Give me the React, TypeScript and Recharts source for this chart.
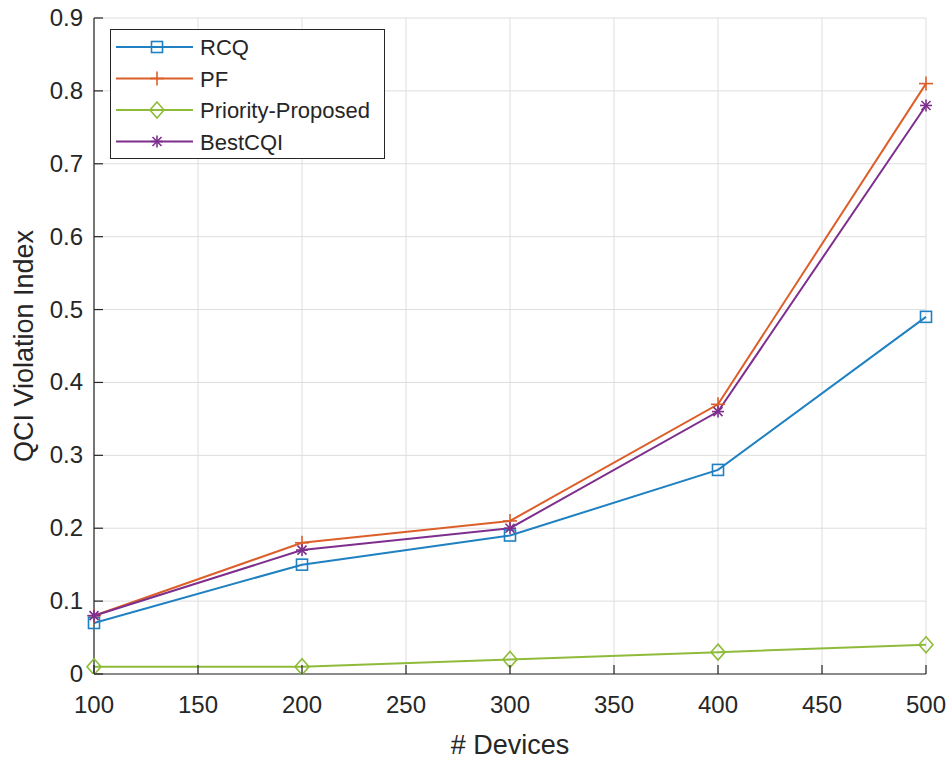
import { LineChart, Line, XAxis, YAxis, CartesianGrid, Legend, Label } from 'recharts';

// # devices on the x axis
const devices = [100, 200, 300, 400, 500];

// QCI violation index per scheduler
const rcq = [0.07, 0.15, 0.19, 0.28, 0.49];
const pf = [0.08, 0.18, 0.21, 0.37, 0.81];
const priorityProposed = [0.01, 0.01, 0.02, 0.03, 0.04];
const bestCqi = [0.08, 0.17, 0.2, 0.36, 0.78];

const xTicks = [100, 150, 200, 250, 300, 350, 400, 450, 500];
const yTicks = [0, 0.1, 0.2, 0.3, 0.4, 0.5, 0.6, 0.7, 0.8, 0.9];

type MarkerKind = 'square' | 'plus' | 'diamond' | 'asterisk';

const SERIES: { key: string; name: string; color: string; marker: MarkerKind }[] = [
  { key: 'rcq', name: 'RCQ', color: '#1f80c2', marker: 'square' },
  { key: 'pf', name: 'PF', color: '#dc5f2a', marker: 'plus' },
  { key: 'prio', name: 'Priority-Proposed', color: '#8fbb3a', marker: 'diamond' },
  { key: 'best', name: 'BestCQI', color: '#7e2f8e', marker: 'asterisk' },
];

const data = devices.map((d, i) => ({
  devices: d,
  rcq: rcq[i],
  pf: pf[i],
  prio: priorityProposed[i],
  best: bestCqi[i],
}));

const FONT = '"Liberation Sans", Arial, Helvetica, sans-serif';
const AXIS_COLOR = '#262626';
const TICK_LEN = 9;

function Marker({ kind, cx, cy, color }: { kind: MarkerKind; cx: number; cy: number; color: string }) {
  const sw = 1.6;
  switch (kind) {
    case 'square':
      return <rect x={cx - 5.5} y={cy - 5.5} width={11} height={11} fill="none" stroke={color} strokeWidth={sw} />;
    case 'plus':
      return (
        <g stroke={color} strokeWidth={sw}>
          <line x1={cx - 7} y1={cy} x2={cx + 7} y2={cy} />
          <line x1={cx} y1={cy - 7} x2={cx} y2={cy + 7} />
        </g>
      );
    case 'diamond':
      return (
        <polygon
          points={`${cx},${cy - 8} ${cx + 7},${cy} ${cx},${cy + 8} ${cx - 7},${cy}`}
          fill="none"
          stroke={color}
          strokeWidth={sw}
        />
      );
    case 'asterisk':
      return (
        <g stroke={color} strokeWidth={sw}>
          <line x1={cx - 6} y1={cy} x2={cx + 6} y2={cy} />
          <line x1={cx} y1={cy - 6} x2={cx} y2={cy + 6} />
          <line x1={cx - 4.5} y1={cy - 4.5} x2={cx + 4.5} y2={cy + 4.5} />
          <line x1={cx - 4.5} y1={cy + 4.5} x2={cx + 4.5} y2={cy - 4.5} />
        </g>
      );
  }
}

// tick labels with MATLAB-style inward tick marks
const BottomTick = (props: any) => {
  const { x, y, payload } = props;
  return (
    <g>
      <line x1={x} y1={y} x2={x} y2={y - TICK_LEN} stroke={AXIS_COLOR} strokeWidth={1.2} />
      <text x={x} y={y + 39} textAnchor="middle" fontSize={24} fill={AXIS_COLOR} fontFamily={FONT}>
        {payload.value}
      </text>
    </g>
  );
};

const LeftTick = (props: any) => {
  const { x, y, payload } = props;
  return (
    <g>
      <line x1={x} y1={y} x2={x + TICK_LEN} y2={y} stroke={AXIS_COLOR} strokeWidth={1.2} />
      <text x={x - 11} y={y + 8} textAnchor="end" fontSize={24} fill={AXIS_COLOR} fontFamily={FONT}>
        {payload.value}
      </text>
    </g>
  );
};

const TopTick = (props: any) => {
  const { x, y } = props;
  return <line x1={x} y1={y} x2={x} y2={y + TICK_LEN} stroke={AXIS_COLOR} strokeWidth={1.2} />;
};

const RightTick = (props: any) => {
  const { x, y } = props;
  return <line x1={x} y1={y} x2={x - TICK_LEN} y2={y} stroke={AXIS_COLOR} strokeWidth={1.2} />;
};

const LegendBox = () => (
  <div
    style={{
      width: 275,
      height: 130,
      boxSizing: 'border-box',
      border: `1.5px solid ${AXIS_COLOR}`,
      background: '#fff',
    }}
  >
    <svg width={272} height={127}>
      {SERIES.map((s, i) => {
        const cy = 17 + i * 31.5;
        return (
          <g key={s.key}>
            <line x1={5} y1={cy} x2={82} y2={cy} stroke={s.color} strokeWidth={2} />
            <Marker kind={s.marker} cx={46} cy={cy} color={s.color} />
            <text x={89} y={cy + 8} fontSize={22} fill={AXIS_COLOR} fontFamily={FONT}>
              {s.name}
            </text>
          </g>
        );
      })}
    </svg>
  </div>
);

export default function App() {
  return (
    <div style={{ position: 'absolute', left: 0, top: 0, background: '#fff' }}>
      <LineChart width={950} height={760} data={data} margin={{ top: 18, right: 24, bottom: 0, left: 0 }}>
        <CartesianGrid stroke="#dedede" strokeWidth={1} />
        <XAxis
          dataKey="devices"
          type="number"
          domain={[100, 500]}
          ticks={xTicks}
          height={86}
          tickSize={0}
          tickMargin={0}
          tick={<BottomTick />}
          axisLine={{ stroke: AXIS_COLOR, strokeWidth: 1.2 }}
          tickLine={false}
        >
          <Label
            content={({ viewBox }: any) => (
              <text
                x={viewBox.x + viewBox.width / 2}
                y={viewBox.y + viewBox.height - 6}
                textAnchor="middle"
                fontSize={27}
                fill={AXIS_COLOR}
                fontFamily={FONT}
              >
                # Devices
              </text>
            )}
          />
        </XAxis>
        <XAxis
          xAxisId="top"
          orientation="top"
          dataKey="devices"
          type="number"
          domain={[100, 500]}
          ticks={xTicks}
          height={0}
          tickSize={0}
          tickMargin={0}
          tick={<TopTick />}
          axisLine={{ stroke: AXIS_COLOR, strokeWidth: 1.2 }}
          tickLine={false}
          allowDataOverflow
        />
        <YAxis
          type="number"
          domain={[0, 0.9]}
          ticks={yTicks}
          width={94}
          tickSize={0}
          tickMargin={0}
          tick={<LeftTick />}
          axisLine={{ stroke: AXIS_COLOR, strokeWidth: 1.2 }}
          tickLine={false}
          allowDataOverflow
        >
          <Label
            content={({ viewBox }: any) => {
              const cx = 24;
              const cy = viewBox.y + viewBox.height / 2;
              return (
                <text
                  x={cx}
                  y={cy}
                  transform={`rotate(-90, ${cx}, ${cy})`}
                  textAnchor="middle"
                  dominantBaseline="central"
                  fontSize={27}
                  fill={AXIS_COLOR}
                  fontFamily={FONT}
                >
                  QCI Violation Index
                </text>
              );
            }}
          />
        </YAxis>
        <YAxis
          yAxisId="right"
          orientation="right"
          type="number"
          domain={[0, 0.9]}
          ticks={yTicks}
          width={0}
          tickSize={0}
          tickMargin={0}
          tick={<RightTick />}
          axisLine={{ stroke: AXIS_COLOR, strokeWidth: 1.2 }}
          tickLine={false}
          allowDataOverflow
        />
        <Legend
          layout="vertical"
          align="center"
          verticalAlign="middle"
          wrapperStyle={{ position: 'absolute', left: 110, top: 29, width: 275, height: 130 }}
          content={() => <LegendBox />}
        />
        {SERIES.map((s) => (
          <Line
            key={s.key}
            dataKey={s.key}
            name={s.name}
            type="linear"
            stroke={s.color}
            strokeWidth={2}
            dot={(p: any) => <Marker key={`${s.key}-${p.index}`} kind={s.marker} cx={p.cx} cy={p.cy} color={s.color} />}
            activeDot={false}
            isAnimationActive={false}
          />
        ))}
      </LineChart>
    </div>
  );
}
